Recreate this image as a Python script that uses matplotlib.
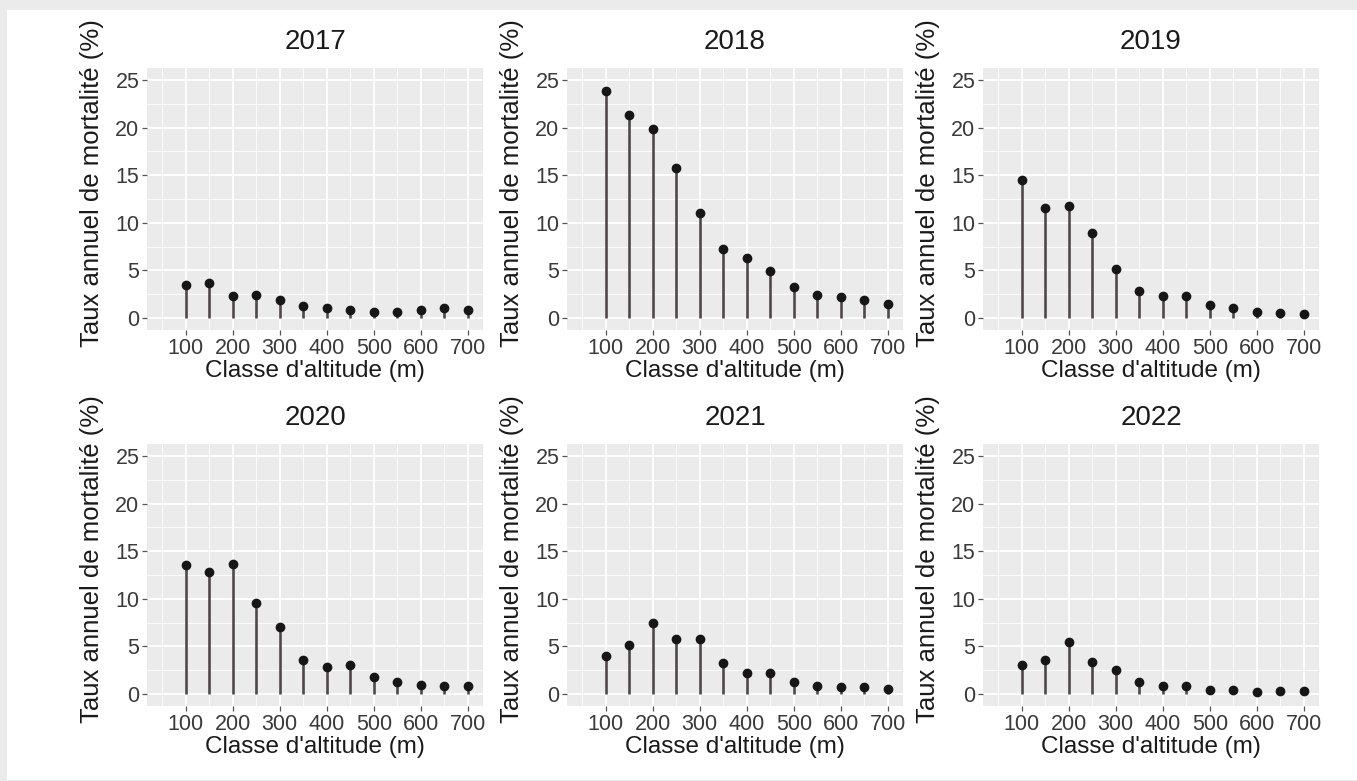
import numpy as np
import matplotlib
matplotlib.use("Agg")
import matplotlib.pyplot as plt
from matplotlib.patches import Rectangle

plt.rcParams['font.family'] = ['Liberation Sans', 'DejaVu Sans']

# altitude classes (m)
altitudes = [100, 150, 200, 250, 300, 350, 400, 450, 500, 550, 600, 650, 700]

# annual mortality rate (%) per year
years = ["2017", "2018", "2019", "2020", "2021", "2022"]
t2017 = [3.5, 3.7, 2.3, 2.45, 1.9, 1.3, 1.05, 0.87, 0.6, 0.6, 0.9, 1.1, 0.87]
t2018 = [23.8, 21.3, 19.8, 15.8, 11.0, 7.3, 6.3, 4.9, 3.3, 2.45, 2.25, 1.95, 1.5]
t2019 = [14.5, 11.55, 11.75, 8.9, 5.15, 2.8, 2.3, 2.3, 1.35, 1.05, 0.65, 0.5, 0.4]
t2020 = [13.5, 12.8, 13.7, 9.6, 7.0, 3.6, 2.85, 3.1, 1.8, 1.3, 1.0, 0.8, 0.85]
t2021 = [4.0, 5.2, 7.5, 5.8, 5.8, 3.3, 2.25, 2.2, 1.25, 0.85, 0.7, 0.75, 0.55]
t2022 = [3.1, 3.6, 5.5, 3.35, 2.55, 1.3, 0.8, 0.85, 0.45, 0.45, 0.2, 0.35, 0.3]
rates = [t2017, t2018, t2019, t2020, t2021, t2022]

W, H = 1357, 781
fig = plt.figure(figsize=(W / 100, H / 100), dpi=100)
fig.patch.set_facecolor('#ebebeb')
# white page area
fig.patches.append(Rectangle((7 / W, 1 / H), 1350 / W, 770 / H,
                             transform=fig.transFigure, facecolor='white',
                             edgecolor='none', zorder=-10))

col_left = [147, 567, 983]
row_top = [68, 444]
pw, ph = 336, 262

for i, (yr, vals) in enumerate(zip(years, rates)):
    r, c = divmod(i, 3)
    l, t = col_left[c], row_top[r]
    ax = fig.add_axes([l / W, (H - t - ph) / H, pw / W, ph / H])
    ax.set_facecolor('#ebebeb')
    ax.set_xlim(17.5, 732.5)
    ax.set_ylim(-1.25, 26.25)
    ax.set_xticks(np.arange(100, 701, 100))
    ax.set_yticks(np.arange(0, 26, 5))
    ax.set_xticks(np.arange(50, 701, 100), minor=True)
    ax.set_yticks(np.arange(2.5, 25, 5), minor=True)
    ax.grid(which='major', color='white', linewidth=1.3)
    ax.grid(which='minor', color='white', linewidth=0.6)
    ax.set_axisbelow(True)
    for s in ax.spines.values():
        s.set_visible(False)
    ax.tick_params(which='major', length=3.5, width=0.9, color='#555555',
                   labelsize=15.5, labelcolor='#3a3a3a', pad=2)
    ax.tick_params(which='minor', length=0)

    ax.vlines(altitudes, 0, vals, color='#524848', linewidth=1.9, zorder=2)
    ax.plot(altitudes, vals, 'o', color='#161616', markersize=6, zorder=3)

    ax.set_title(yr, fontsize=20, color='#1a1a1a', pad=14)
    ax.set_xlabel("Classe d'altitude (m)", fontsize=17.5, color='#1a1a1a', labelpad=1)
    # y label placed slightly above the panel centre, as in the source
    fig.text((l - 55) / W, (H - (t + ph / 2 - 16)) / H,
             "Taux annuel de mortalité (%)", rotation=90, fontsize=18.5,
             color='#1a1a1a', ha='center', va='center')

fig.savefig("out.png", dpi=100, facecolor=fig.get_facecolor())
